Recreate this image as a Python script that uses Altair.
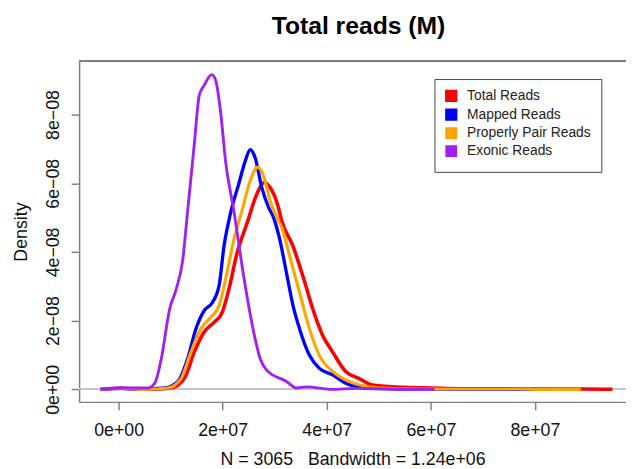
import json
import altair as alt
import pandas as pd

# ---- data (x in millions of reads, density in units of 1e-8) ----
series_names = ["Total Reads", "Mapped Reads", "Properly Pair Reads", "Exonic Reads"]
series_colors = ["#FF0000", "#0000FF", "#FFA500", "#A020F0"]
series_widths = [3.6, 2.9, 2.9, 2.6]

total_x = [-3.47, 0.63, 5.69, 10.11, 12.66, 14.55, 16.45, 18.35, 19.92, 21.19, 22.77, 24.67,
           26.57, 28.03, 29.09, 30.68, 31.31, 33.53, 35.43, 37.32, 39.22, 41.12, 43.64, 46.17,
           48.71, 51.23, 55.03, 60.09, 66.0, 72.1, 78.0, 83.5, 89.0, 94.9]
total_y = [0.0, 0.03, 0.0, 0.04, 0.32, 1.09, 1.67, 1.95, 2.24, 2.91, 3.97, 4.83,
           5.69, 6.02, 5.88, 5.31, 4.92, 4.16, 3.29, 2.34, 1.57, 1.09, 0.52, 0.32,
           0.13, 0.09, 0.06, 0.04, 0.02, 0.02, 0.01, 0.01, 0.01, 0.0]

mapped_x = [-3.47, 0.63, 3.80, 8.86, 11.39, 13.28, 14.86, 16.45, 18.03, 19.30, 20.25, 21.50,
            23.09, 24.35, 25.29, 26.24, 27.51, 28.78, 29.73, 30.99, 32.26, 33.53, 34.78, 36.68,
            38.58, 41.12, 43.64, 46.17, 49.34, 55.0, 62.6, 72.1, 78.0, 83.5]
mapped_y = [0.0, 0.03, 0.0, 0.04, 0.23, 0.90, 1.76, 2.29, 2.53, 3.01, 4.16, 5.12,
            5.98, 6.65, 6.98, 6.74, 5.88, 5.31, 5.02, 4.35, 3.39, 2.43, 1.76, 0.99,
            0.61, 0.42, 0.18, 0.06, 0.02, 0.01, 0.01, 0.01, 0.0, 0.0]

pp_x = [-3.47, 0.63, 5.0, 9.49, 12.01, 13.91, 15.81, 17.70, 19.30, 20.55, 22.14, 23.72,
        25.29, 26.70, 27.84, 29.09, 30.68, 31.31, 32.88, 34.78, 36.68, 38.58, 41.12, 44.27,
        47.44, 50.61, 56.0, 62.6, 69.0, 75.9, 82.0, 88.8]
pp_y = [0.0, 0.03, 0.0, 0.04, 0.32, 1.09, 1.76, 2.10, 2.43, 3.20, 4.35, 5.21,
        6.07, 6.47, 6.22, 5.50, 4.92, 4.73, 3.87, 2.82, 1.76, 0.99, 0.52, 0.23,
        0.09, 0.04, 0.02, 0.01, 0.01, 0.01, 0.0, 0.0]

exonic_x = [-3.47, 0.63, 5.69, 6.96, 8.22, 9.81, 11.06, 12.33, 13.28, 14.55, 15.50, 16.45,
            17.89, 18.65, 19.60, 20.55, 22.14, 24.04, 25.94, 27.19, 28.46, 32.26, 34.16, 36.06,
            41.12, 45.5, 53.1, 60.7]
exonic_y = [0.0, 0.04, 0.04, 0.18, 0.90, 2.34, 2.91, 3.77, 5.21, 7.14, 8.56, 8.85,
            9.16, 9.00, 8.08, 6.65, 5.21, 3.29, 1.68, 0.90, 0.56, 0.23, 0.04, 0.07,
            0.0, 0.03, 0.01, 0.0]

x_ticks = [0, 2e7, 4e7, 6e7, 8e7]
x_labels = ["0e+00", "2e+07", "4e+07", "6e+07", "8e+07"]
y_ticks = [0, 2e-8, 4e-8, 6e-8, 8e-8]
y_labels = ["0e+00", "2e\u221208", "4e\u221208", "6e\u221208", "8e\u221208"]

x_domain = [-7.59e6, 97.5e6]
y_domain = [-3.65e-9, 9.55e-8]

chart_title = "Total reads (M)"
x_title = "N = 3065\u00a0\u00a0\u00a0Bandwidth = 1.24e+06"
y_title = "Density"

# ---- build tables ----
rows = []
for name, xs, ys in zip(series_names,
                        [total_x, mapped_x, pp_x, exonic_x],
                        [total_y, mapped_y, pp_y, exonic_y]):
    for i, (xv, yv) in enumerate(zip(xs, ys)):
        rows.append({"series": name, "x": xv * 1e6, "y": yv * 1e-8, "i": i})
df = pd.DataFrame(rows)
legend_df = pd.DataFrame({"series": series_names, "x": [None] * 4, "y": [None] * 4})

FONT = "Liberation Sans"
LINE = "#808080"

x_scale = alt.Scale(domain=x_domain, nice=False, zero=False)
y_scale = alt.Scale(domain=y_domain, nice=False, zero=False)
color_scale = alt.Scale(domain=series_names, range=series_colors)

x_axis = alt.Axis(values=x_ticks, labelExpr=json.dumps(x_labels) + "[round(datum.value/2e7)]",
                  title=x_title, grid=False, domainColor=LINE, domainWidth=1.5,
                  tickColor=LINE, tickWidth=1.5, tickSize=8, labelPadding=12,
                  labelFontSize=18, labelFont=FONT, labelColor="#111",
                  titleFontSize=18, titleFont=FONT, titleFontWeight="normal",
                  titleColor="#111", titlePadding=11, labelFlush=False)
y_axis = alt.Axis(values=y_ticks, labelExpr=json.dumps(y_labels) + "[round(datum.value/2e-8)]",
                  title=y_title, grid=False, domainColor=LINE, domainWidth=1.5,
                  tickColor=LINE, tickWidth=1.5, tickSize=8, labelPadding=13,
                  labelAngle=270, labelAlign="center", labelBaseline="alphabetic",
                  labelFontSize=18, labelFont=FONT, labelColor="#111",
                  titleFontSize=18, titleFont=FONT, titleFontWeight="normal",
                  titleColor="#111", titlePadding=14, labelFlush=False)

legend = alt.Legend(
    title=None, orient="none", legendX=360, legendY=18,
    strokeColor="#444", fillColor="white", padding=10,
    labelFont=FONT, labelFontSize=14, labelColor="#222", labelOffset=9,
    symbolType="square", symbolSize=81, rowPadding=-9.8,
    symbolOpacity=1, symbolStrokeColor="black", symbolStrokeWidth=0.8,
)

# legend-only layer (no drawable rows), listed first so legend symbols are filled squares
legend_layer = alt.Chart(legend_df).mark_square(size=81, filled=True).encode(
    x=alt.X("x:Q", scale=x_scale, axis=x_axis),
    y=alt.Y("y:Q", scale=y_scale, axis=y_axis),
    color=alt.Color("series:N", scale=color_scale, legend=legend, sort=series_names),
)

zero_rule = alt.Chart(df).mark_rule(color="#c8c8c8", strokeWidth=1).encode(
    y=alt.datum(0, scale=y_scale, axis=y_axis)
)

top_frame = alt.Chart(df).mark_rule(color=LINE, strokeWidth=1.5).encode(
    y=alt.value(0)
)

lines = alt.Chart(df).mark_line(interpolate="monotone").encode(
    x=alt.X("x:Q", scale=x_scale, axis=x_axis),
    y=alt.Y("y:Q", scale=y_scale, axis=y_axis),
    color=alt.Color("series:N", scale=color_scale, sort=series_names),
    strokeWidth=alt.StrokeWidth("series:N", scale=alt.Scale(domain=series_names, range=series_widths),
                                legend=None),
    order="i:Q",
)

chart = alt.layer(legend_layer, zero_rule, top_frame, lines).properties(
    width=554, height=345,
    title=alt.TitleParams(text=chart_title, font=FONT, fontSize=25, fontWeight="bold",
                          color="black", anchor="middle", dx=6, offset=22),
    autosize=alt.AutoSizeParams(type="none"),
    padding={"left": 72, "top": 51, "right": 0, "bottom": 65},
).configure_view(stroke=None).configure(background="white")

chart.save("out.html", embed_options={"renderer": "svg", "actions": False})
